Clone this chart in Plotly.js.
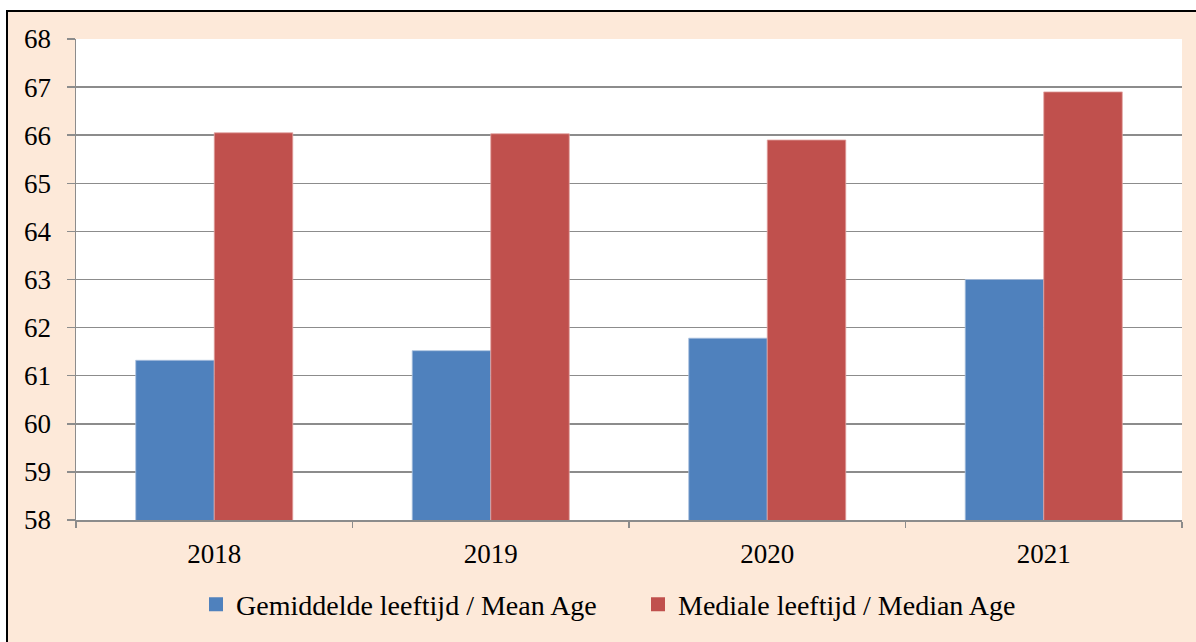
<!DOCTYPE html>
<html>
<head>
<meta charset="utf-8">
<script src="https://cdn.plot.ly/plotly-3.0.1.min.js"></script>
<style>
  html, body { margin: 0; padding: 0; background: #ffffff; overflow: hidden; }
  #wrap { position: relative; width: 1196px; height: 642px; }
  #frame { position: absolute; left: 6px; top: 10px; width: 1200px; height: 650px;
           background: #FDE9D9; border: 2px solid #000; box-sizing: border-box; }
  #chart { position: absolute; left: 0; top: 0; width: 1196px; height: 642px; }
</style>
</head>
<body>
<div id="wrap">
  <div id="frame"></div>
  <div id="chart"></div>
</div>
<script>
const years = ['2018', '2019', '2020', '2021'];
const meanAge = [61.32, 61.52, 61.78, 63.0];
const medianAge = [66.05, 66.03, 65.90, 66.90];
const seriesNames = ['Gemiddelde leeftijd / Mean Age', 'Mediale leeftijd / Median Age'];
const seriesColors = ['#4F81BD', '#C0504D'];
const yTicks = [58, 59, 60, 61, 62, 63, 64, 65, 66, 67, 68];

const font = 'Liberation Serif';

const traces = [
  { type: 'bar', x: years, y: meanAge, name: seriesNames[0], hoverinfo: 'skip',
    showlegend: false, legendgroup: 'a',
    marker: { color: seriesColors[0], line: { color: '#A9C0DE', width: 0.8 } } },
  { type: 'bar', x: years, y: medianAge, name: seriesNames[1], hoverinfo: 'skip',
    showlegend: false, legendgroup: 'b',
    marker: { color: seriesColors[1], line: { color: '#E2A3A1', width: 0.8 } } },
  // legend keys (square swatches) for the two series
  { type: 'scatter', mode: 'markers', x: [null], y: [null], name: seriesNames[0],
    legendgroup: 'a', hoverinfo: 'skip',
    marker: { symbol: 'square', size: 14, color: seriesColors[0] } },
  { type: 'scatter', mode: 'markers', x: [null], y: [null], name: seriesNames[1],
    legendgroup: 'b', hoverinfo: 'skip',
    marker: { symbol: 'square', size: 14, color: seriesColors[1] } }
];

const layout = {
  width: 1196, height: 642,
  margin: { l: 76, r: 14, t: 39, b: 119 },
  paper_bgcolor: 'rgba(0,0,0,0)',
  plot_bgcolor: '#ffffff',
  barmode: 'group',
  bargap: 0.432,
  bargroupgap: 0,
  font: { family: font, color: '#000000', size: 27 },
  showlegend: true,
  legend: {
    orientation: 'h', x: 0.1085, xanchor: 'left', y: -0.176, yanchor: 'middle',
    font: { family: font, size: 28, color: '#000' },
    entrywidth: 397, entrywidthmode: 'pixels',
    bgcolor: 'rgba(0,0,0,0)', traceorder: 'normal'
  },
  xaxis: {
    type: 'category',
    tickson: 'boundaries',
    ticks: 'outside', ticklen: 6, tickwidth: 1.5, tickcolor: '#8c8c8c',
    showline: true, linecolor: '#8c8c8c', linewidth: 1.5,
    showgrid: false, zeroline: false,
    tickfont: { family: font, size: 27, color: '#000' },
    ticklabelstandoff: 9
  },
  yaxis: {
    range: [58, 68],
    tickmode: 'array',
    tickvals: yTicks,
    ticks: 'outside', ticklen: 8, tickwidth: 1.5, tickcolor: '#8c8c8c',
    showline: true, linecolor: '#8c8c8c', linewidth: 1.5,
    showgrid: true, gridcolor: '#8c8c8c', gridwidth: 1.5,
    zeroline: false,
    tickfont: { family: font, size: 27, color: '#000' },
    ticklabelstandoff: 10
  }
};

Plotly.newPlot('chart', traces, layout, { staticPlot: true, displayModeBar: false });
</script>
</body>
</html>
